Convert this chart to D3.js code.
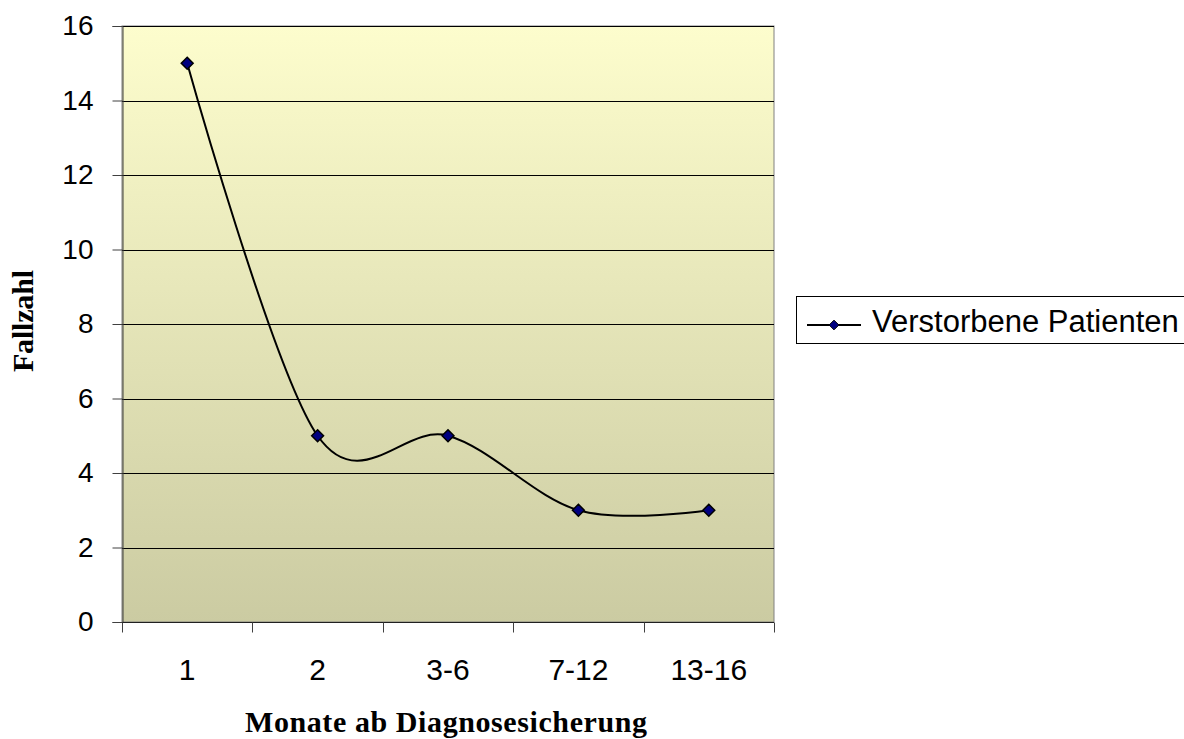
<!DOCTYPE html>
<html>
<head>
<meta charset="utf-8">
<script src="https://cdn.jsdelivr.net/npm/d3@7"></script>
<style>
  html, body { margin: 0; padding: 0; background: #ffffff; }
  svg { display: block; }
</style>
</head>
<body>
<svg id="chart" width="1184" height="739"></svg>
<script>
// Verstorbene Patienten nach Monaten ab Diagnosesicherung
const categories = ["1", "2", "3-6", "7-12", "13-16"];
const values = [15, 5, 5, 3, 3];
const yTicks = [0, 2, 4, 6, 8, 10, 12, 14, 16];
const seriesName = "Verstorbene Patienten";
const xTitle = "Monate ab Diagnosesicherung";
const yTitle = "Fallzahl";

const svg = d3.select("#chart");
const plot = { left: 122, top: 26, right: 774, bottom: 622 };

const x = d3.scaleBand().domain(categories).range([plot.left, plot.right]);
const y = d3.scaleLinear().domain([0, 16]).range([plot.bottom, plot.top]);

// background gradient of the plot area
const defs = svg.append("defs");
const grad = defs.append("linearGradient")
  .attr("id", "bg").attr("x1", 0).attr("y1", 0).attr("x2", 0).attr("y2", 1);
grad.append("stop").attr("offset", "0%").attr("stop-color", "#fdfdcd");
grad.append("stop").attr("offset", "100%").attr("stop-color", "#cbcba2");

svg.append("rect")
  .attr("x", plot.left).attr("y", plot.top)
  .attr("width", plot.right - plot.left).attr("height", plot.bottom - plot.top)
  .attr("fill", "url(#bg)")
  .attr("stroke", "#808080").attr("stroke-width", 1);

// horizontal gridlines
svg.append("g")
  .selectAll("line")
  .data(yTicks.filter(d => d > 0))
  .join("line")
  .attr("x1", plot.left).attr("x2", plot.right)
  .attr("y1", d => Math.round(y(d)) + 0.5).attr("y2", d => Math.round(y(d)) + 0.5)
  .attr("stroke", "#000").attr("stroke-width", 1);

// y axis
const yAxis = svg.append("g")
  .attr("transform", `translate(${plot.left + 0.5},0)`)
  .call(d3.axisLeft(y).tickValues(yTicks).tickSize(10).tickPadding(19).tickFormat(d3.format("d")));
yAxis.select(".domain").attr("stroke", "#404040");
yAxis.selectAll(".tick line").attr("stroke", "#404040");
yAxis.selectAll("text")
  .attr("font-family", "Liberation Sans, Arial, sans-serif")
  .attr("font-size", 28).attr("fill", "#000");

// x axis with ticks between categories
const xAxis = svg.append("g")
  .attr("transform", `translate(0,${plot.bottom + 0.5})`);
xAxis.append("line")
  .attr("x1", plot.left).attr("x2", plot.right)
  .attr("stroke", "#202020");
const boundaries = categories.map(c => x(c)).concat([x(categories[categories.length - 1]) + x.bandwidth()]);
xAxis.selectAll(".tk")
  .data(boundaries)
  .join("line")
  .attr("class", "tk")
  .attr("x1", d => Math.round(d) + 0.5).attr("x2", d => Math.round(d) + 0.5)
  .attr("y1", 0).attr("y2", 10)
  .attr("stroke", "#404040");
xAxis.selectAll("text")
  .data(categories)
  .join("text")
  .attr("x", d => x(d) + x.bandwidth() / 2)
  .attr("y", 57)
  .attr("text-anchor", "middle")
  .attr("font-family", "Liberation Sans, Arial, sans-serif")
  .attr("font-size", 30)
  .text(d => d);

// smoothed line
const pts = categories.map((c, i) => [x(c) + x.bandwidth() / 2, y(values[i])]);
svg.append("path")
  .attr("d", d3.line().curve(d3.curveCardinal.tension(0))(pts))
  .attr("fill", "none")
  .attr("stroke", "#000")
  .attr("stroke-width", 2);

// diamond markers
const diamond = d3.symbol().type(d3.symbolDiamond2).size(90);
svg.append("g")
  .selectAll("path")
  .data(pts)
  .join("path")
  .attr("transform", d => `translate(${d[0]},${d[1]})`)
  .attr("d", diamond)
  .attr("fill", "#000080")
  .attr("stroke", "#000")
  .attr("stroke-width", 1.5);

// axis titles
svg.append("text")
  .attr("x", 245)
  .attr("y", 732)
  .attr("textLength", 402)
  .attr("lengthAdjust", "spacing")
  .attr("font-family", "Liberation Serif, Times New Roman, serif")
  .attr("font-weight", "bold")
  .attr("font-size", 30)
  .text(xTitle);

svg.append("text")
  .attr("transform", `translate(33,372) rotate(-90)`)
  .attr("textLength", 102)
  .attr("lengthAdjust", "spacing")
  .attr("font-family", "Liberation Serif, Times New Roman, serif")
  .attr("font-weight", "bold")
  .attr("font-size", 30)
  .text(yTitle);

// legend
const lg = svg.append("g");
lg.append("rect")
  .attr("x", 796.5).attr("y", 296.5)
  .attr("width", 400).attr("height", 47)
  .attr("fill", "#fff").attr("stroke", "#000").attr("stroke-width", 1);
lg.append("line")
  .attr("x1", 807).attr("x2", 861).attr("y1", 325).attr("y2", 325)
  .attr("stroke", "#000").attr("stroke-width", 2);
lg.append("path")
  .attr("transform", "translate(834,325)")
  .attr("d", d3.symbol().type(d3.symbolDiamond2).size(60))
  .attr("fill", "#000080").attr("stroke", "#000").attr("stroke-width", 1);
lg.append("text")
  .attr("x", 872).attr("y", 332)
  .attr("font-family", "Liberation Sans, Arial, sans-serif")
  .attr("font-size", 31)
  .text(seriesName);
</script>
</body>
</html>
